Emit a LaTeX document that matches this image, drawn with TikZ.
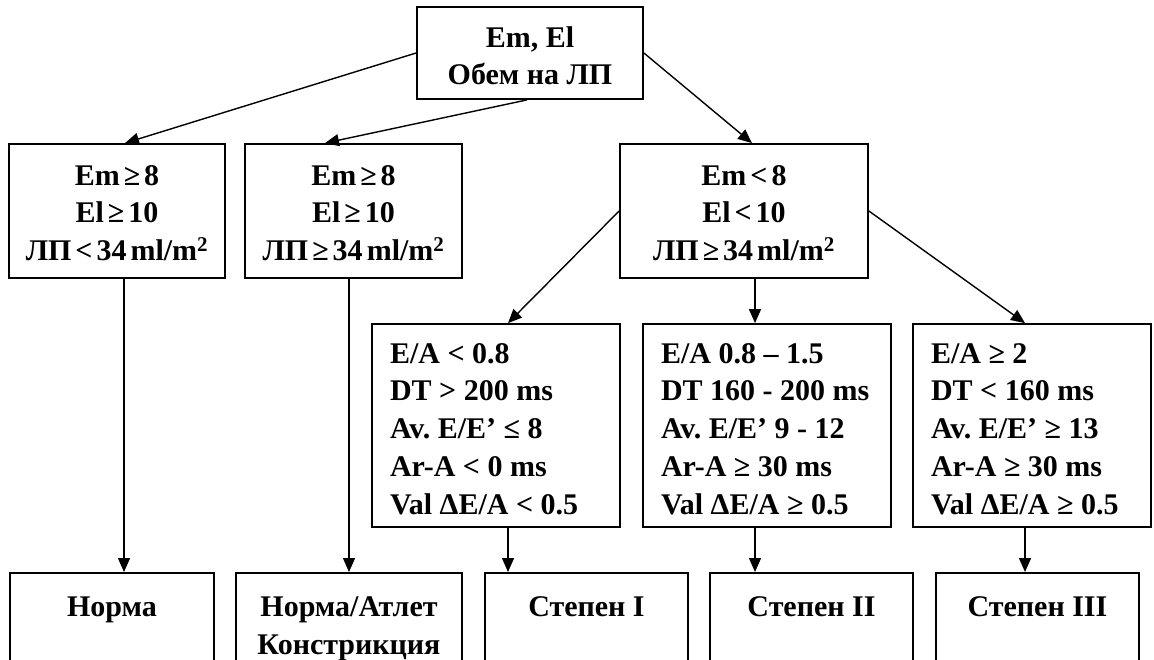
\documentclass[tikz,border=0pt]{standalone}
\usepackage{fontspec}
\setmainfont{Liberation Serif}
\usetikzlibrary{arrows.meta,positioning}

\begin{document}
\begin{tikzpicture}[
    x=1pt, y=-1pt,
    box/.style={rectangle, draw, line width=1.8pt, inner sep=0pt, align=flush center,
        font=\fontsize{30}{37.8}\selectfont\bfseries,
        execute at begin node={\spaceskip=0pt\xspaceskip=0pt\frenchspacing}},
    head/.style={box, text width=#1, text height=40pt, text depth=52pt},
    cond/.style={box, text width=#1, text height=41pt, text depth=93pt,
        execute at begin node={\spaceskip=4pt plus 1pt\relax}},
    crit/.style={box, align=flush left, text width=#1, text height=39pt, text depth=164pt, inner xsep=18pt},
    grade/.style={box, anchor=north, text width=#1, text height=44pt, text depth=150pt},
    arrow/.style={-{Triangle[length=14pt,width=12pt]}, line width=1.4pt}
]
    \useasboundingbox (0,0) rectangle (1154,659);
    \clip (0,0) rectangle (1154,659);

    \node[head=226pt] (volume) at (530,53) {Em, El\\Обем на ЛП};

    \node[cond=216pt] (normal) at (117,211) {Em ≥ 8\\El ≥ 10\\ЛП < 34 ml/m\textsuperscript{2}};
    \node[cond=217pt] (athlete) at (353.5,211) {Em ≥ 8\\El ≥ 10\\ЛП ≥ 34 ml/m\textsuperscript{2}};
    \node[cond=248pt] (dysfunction) at (744,211) {Em < 8\\El < 10\\ЛП ≥ 34 ml/m\textsuperscript{2}};

    \node[crit=212pt] (critone) at (496,425.5) {E/A < 0.8\\DT > 200 ms\\Av. E/E’ ≤ 8\\Ar-A < 0 ms\\Val ΔE/A < 0.5};
    \node[crit=212pt] (crittwo) at (767,425.5) {E/A 0.8 – 1.5\\DT 160 - 200 ms\\Av. E/E’ 9 - 12\\Ar-A ≥ 30 ms\\Val ΔE/A ≥ 0.5};
    \node[crit=202pt] (critthree) at (1032,425.5) {E/A ≥ 2\\DT < 160 ms\\Av. E/E’ ≥ 13\\Ar-A ≥ 30 ms\\Val ΔE/A ≥ 0.5};

    \node[grade=204pt] (norma) at (112,572) {Норма};
    \node[grade=226pt] (athlet) at (349,572) {Норма/Атлет\\Констрикция};
    \node[grade=203pt] (stepone) at (586.5,572) {Степен I};
    \node[grade=203pt] (steptwo) at (811.5,572) {Степен II};
    \node[grade=203pt] (stepthree) at (1037.5,572) {Степен III};

    \draw[arrow] (volume.west) -- ([xshift=8pt]normal.north);
    \draw[arrow] ([xshift=-3pt]volume.south) -- ([xshift=-28.5pt]athlete.north);
    \draw[arrow] (volume.east) -- ([xshift=8pt]dysfunction.north);

    \draw[arrow] (dysfunction.west) -- ([xshift=12pt]critone.north);
    \draw[arrow] ([xshift=11pt]dysfunction.south) -- ([xshift=11pt]dysfunction.south |- crittwo.north);
    \draw[arrow] (dysfunction.east) -- ([xshift=-7pt]critthree.north);

    \draw[arrow] ([xshift=7pt]normal.south) -- ([xshift=7pt]normal.south |- norma.north);
    \draw[arrow] ([xshift=-4.5pt]athlete.south) -- ([xshift=-4.5pt]athlete.south |- athlet.north);
    \draw[arrow] ([xshift=12pt]critone.south) -- ([xshift=12pt]critone.south |- stepone.north);
    \draw[arrow] ([xshift=-12pt]crittwo.south) -- ([xshift=-12pt]crittwo.south |- steptwo.north);
    \draw[arrow] ([xshift=-7pt]critthree.south) -- ([xshift=-7pt]critthree.south |- stepthree.north);
\end{tikzpicture}
\end{document}
